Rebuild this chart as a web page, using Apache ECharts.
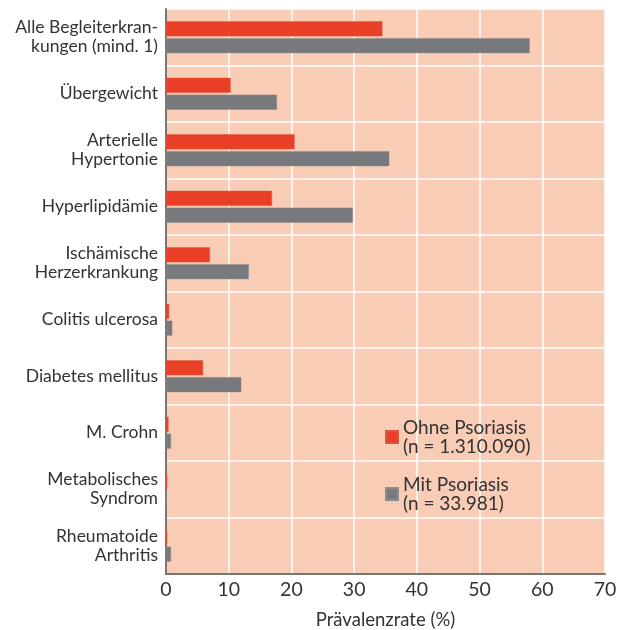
<!DOCTYPE html>
<html>
<head>
<meta charset="utf-8">
<script src="https://cdn.jsdelivr.net/npm/echarts@6/dist/echarts.min.js"></script>
<style>
  html, body { margin: 0; padding: 0; background: #fff; }
  #chart { width: 624px; height: 630px; }
</style>
</head>
<body>
<div id="chart"></div>
<script>
const categories = [
  'Alle Begleiterkran-\nkungen (mind. 1)',
  'Übergewicht',
  'Arterielle\nHypertonie',
  'Hyperlipidämie',
  'Ischämische\nHerzerkrankung',
  'Colitis ulcerosa',
  'Diabetes mellitus',
  'M. Crohn',
  'Metabolisches\nSyndrom',
  'Rheumatoide\nArthritis'
];
const ohnePsoriasis = [34.5, 10.3, 20.5, 16.9, 7.0, 0.5, 5.9, 0.4, 0.2, 0.2];
const mitPsoriasis = [58.0, 17.7, 35.6, 29.8, 13.2, 1.0, 12.0, 0.8, 0.1, 0.8];
const xTicks = [0, 10, 20, 30, 40, 50, 60, 70];

const chart = echarts.init(document.getElementById('chart'));
const font = 'Lato, "Noto Sans", sans-serif';

chart.setOption({
  animation: false,
  textStyle: { fontFamily: font },
  grid: {
    left: 166, right: 19, top: 9, bottom: 56,
    outerBoundsMode: 'none',
    show: true,
    backgroundColor: '#f9ccb6',
    borderWidth: 0
  },
  legend: {
    orient: 'vertical',
    left: 380, top: 413,
    itemWidth: 12, itemHeight: 12,
    itemGap: 19,
    icon: 'rect',
    textStyle: { fontSize: 19, color: '#333', lineHeight: 19, fontFamily: font },
    formatter: function (name) {
      return name === 'Ohne Psoriasis' ? 'Ohne Psoriasis\n(n = 1.310.090)' : 'Mit Psoriasis\n(n = 33.981)';
    },
    data: ['Ohne Psoriasis', 'Mit Psoriasis']
  },
  xAxis: {
    type: 'value',
    min: xTicks[0], max: xTicks[xTicks.length - 1], interval: 10,
    name: 'Prävalenzrate (%)',
    nameLocation: 'middle',
    nameGap: 37,
    nameTextStyle: { fontSize: 18.5, color: '#333' },
    axisLine: { show: true, lineStyle: { color: '#777', width: 2 } },
    axisTick: { show: false },
    axisLabel: { fontSize: 19.5, color: '#333', margin: 6 },
    splitLine: { show: true, lineStyle: { color: 'rgba(255,255,255,0.75)', width: 2 } }
  },
  yAxis: {
    type: 'category',
    inverse: true,
    data: categories,
    axisLine: { show: true, lineStyle: { color: '#777', width: 2 } },
    axisTick: { show: false },
    axisLabel: { fontSize: 17.5, color: '#333', lineHeight: 19, margin: 8 },
    splitLine: { show: true, lineStyle: { color: 'rgba(255,255,255,0.75)', width: 2 } }
  },
  series: [
    {
      name: 'Ohne Psoriasis',
      type: 'bar',
      data: ohnePsoriasis,
      barWidth: 15,
      barGap: '12%',
      itemStyle: { color: '#ea3f27', borderColor: '#d9553c', borderWidth: 0.5 }
    },
    {
      name: 'Mit Psoriasis',
      type: 'bar',
      data: mitPsoriasis,
      barWidth: 15,
      itemStyle: { color: '#78797c', borderColor: '#8c8a8a', borderWidth: 0.5 }
    }
  ]
});
</script>
</body>
</html>
